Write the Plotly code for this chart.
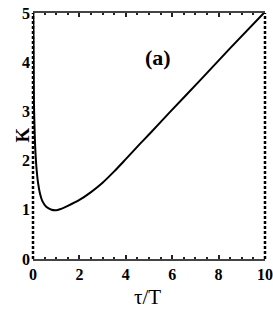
import plotly.graph_objects as go

# data
tau = [0.015, 0.03, 0.04, 0.07, 0.10, 0.15, 0.22, 0.30, 0.40, 0.57, 0.80, 1.00, 1.16, 1.50, 2.00, 2.50, 3.00, 3.50, 4.00, 4.61, 5.04, 5.91, 7.20, 8.49, 9.95]
K = [5.00, 4.00, 3.20, 2.60, 2.22, 1.85, 1.54, 1.33, 1.18, 1.06, 1.00, 0.99, 1.01, 1.08, 1.20, 1.36, 1.55, 1.78, 2.03, 2.34, 2.55, 2.99, 3.63, 4.28, 5.00]
x_ticks = [0, 2, 4, 6, 8, 10]
y_ticks = [0, 1, 2, 3, 4, 5]

serif = "Liberation Serif"
L, R, T, B = 33, 8, 13, 68
W, H = 273, 327
pw, ph = W - L - R, H - T - B


def px(x, y):
    return (x - L) / pw, (H - B - y) / ph


fig = go.Figure()
fig.add_trace(go.Scatter(x=tau, y=K, mode="lines",
                         line=dict(color="black", width=2, shape="spline", smoothing=0.8),
                         showlegend=False, hoverinfo="skip"))

ax, ay = px(158, 43)
kx, ky = px(9, 135)
tx, ty = px(147, 311)

fig.update_layout(
    width=W, height=H,
    margin=dict(l=L, r=R, t=T, b=B),
    paper_bgcolor="white", plot_bgcolor="white",
    xaxis=dict(range=[0, 10], tickvals=x_ticks, ticks="inside", ticklen=4, tickwidth=2,
               tickcolor="#222", showline=True, linecolor="#444", linewidth=1.5, mirror="ticks",
               showgrid=False, zeroline=False, automargin=False,
               minor=dict(dtick=0.5, ticks="inside", ticklen=2, tickwidth=2, tickcolor="#222"),
               tickfont=dict(family=serif, size=16, color="black", weight="bold")),
    yaxis=dict(range=[0, 5], tickvals=y_ticks, ticks="", showline=False, showgrid=False,
               zeroline=False, ticklabelstandoff=2, automargin=False,
               tickfont=dict(family=serif, size=16, color="black", weight="bold")),
    shapes=[
        dict(type="line", xref="x domain", yref="y domain", x0=0, x1=0, y0=0, y1=1,
             line=dict(color="black", width=2.5, dash="3px,2px")),
        dict(type="line", xref="x domain", yref="y domain", x0=1, x1=1, y0=0, y1=1,
             line=dict(color="black", width=2.5, dash="3px,2px")),
    ],
    annotations=[
        dict(text="(a)", x=ax, y=ay, xref="paper", yref="paper", showarrow=False,
             font=dict(family=serif, size=22, color="black", weight="bold")),
        dict(text="K", x=kx, y=ky, xref="paper", yref="paper", showarrow=False,
             textangle=-90, font=dict(family=serif, size=19, color="black", weight="bold")),
        dict(text="τ/T", x=tx, y=ty, xref="paper", yref="paper", showarrow=False,
             font=dict(family=serif, size=21, color="black")),
    ],
)

fig.write_html("out.html", config={"displayModeBar": False},
               post_script="document.body.style.margin='0';")
